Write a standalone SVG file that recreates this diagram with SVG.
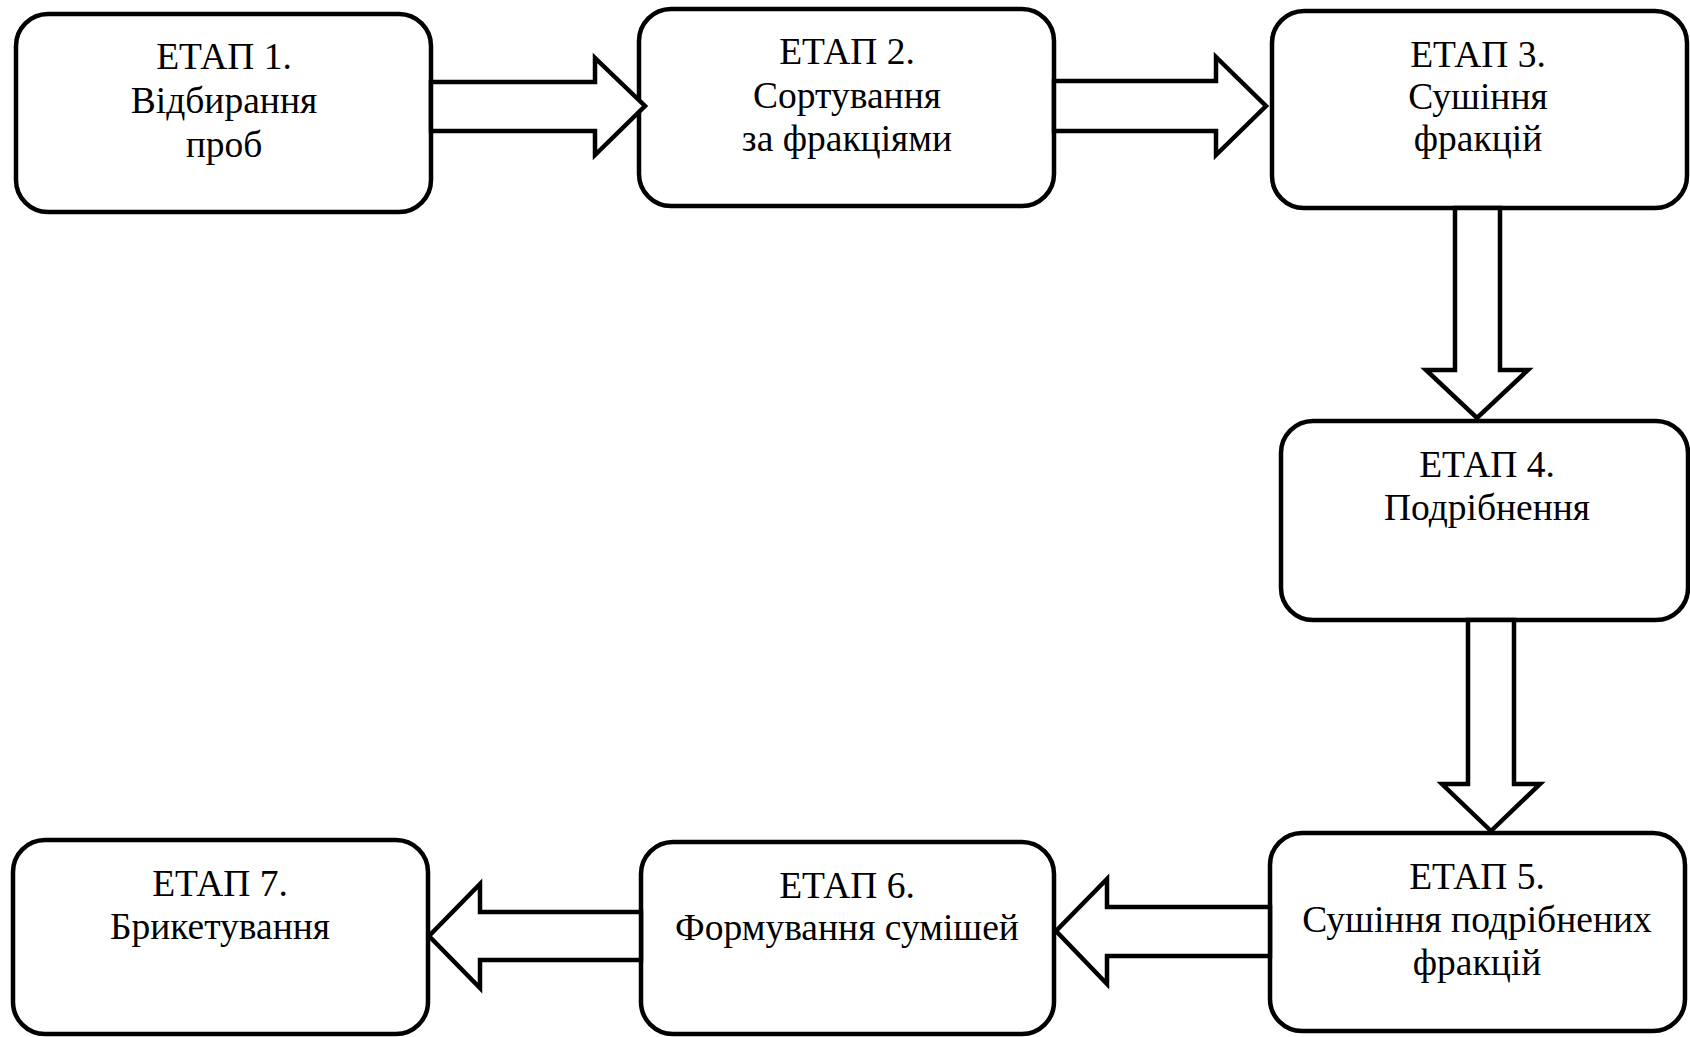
<svg xmlns="http://www.w3.org/2000/svg" width="1690" height="1037" viewBox="0 0 1690 1037">
<style>
.box{fill:#fff;stroke:#000;stroke-width:4.5}
.arr{fill:#fff;stroke:#000;stroke-width:4.5;stroke-linejoin:miter}
text{font-family:"Liberation Serif","Times New Roman",serif;font-size:37.5px;fill:#000;text-anchor:middle}
</style>
<rect width="1690" height="1037" fill="#fff"/>
<g id="n1"><rect class="box" x="16" y="14" width="415" height="198" rx="32"/>
<text x="224" y="69">ЕТАП 1.</text><text x="224" y="113">Відбирання</text><text x="224" y="157">проб</text></g>
<g id="n2"><rect class="box" x="639" y="9" width="415" height="197" rx="32"/>
<text x="847" y="64">ЕТАП 2.</text><text x="847" y="108">Сортування</text><text x="847" y="151">за фракціями</text></g>
<g id="n3"><rect class="box" x="1272" y="11" width="415" height="197" rx="32"/>
<text x="1478" y="67">ЕТАП 3.</text><text x="1478" y="109">Сушіння</text><text x="1478" y="151">фракцій</text></g>
<g id="n4"><rect class="box" x="1281" y="421" width="407" height="199" rx="32"/>
<text x="1487" y="477">ЕТАП 4.</text><text x="1487" y="520">Подрібнення</text></g>
<g id="n5"><rect class="box" x="1270" y="833" width="415" height="198" rx="32"/>
<text x="1477" y="889">ЕТАП 5.</text><text x="1477" y="932">Сушіння подрібнених</text><text x="1477" y="975">фракцій</text></g>
<g id="n6"><rect class="box" x="641" y="842" width="413" height="192" rx="32"/>
<text x="847" y="898">ЕТАП 6.</text><text x="847" y="940">Формування сумішей</text></g>
<g id="n7"><rect class="box" x="13" y="840" width="415" height="194" rx="32"/>
<text x="220" y="896">ЕТАП 7.</text><text x="220" y="939">Брикетування</text></g>
<g id="connectors">
<polygon class="arr" points="431,82 595,82 595,58 645,106 595,155 595,131 431,131"/>
<polygon class="arr" points="1054,81 1216,81 1216,57 1266,106 1216,155 1216,131 1054,131"/>
<polygon class="arr" points="1455,208 1455,370 1426,370 1477,418 1528,370 1500,370 1500,208"/>
<polygon class="arr" points="1468,620 1468,784 1442,784 1491,831 1540,784 1514,784 1514,620"/>
<polygon class="arr" points="1270,907 1107,907 1107,879 1056,931 1107,984 1107,956 1270,956"/>
<polygon class="arr" points="641,912 480,912 480,884 429,936 480,988 480,960 641,960"/>
</g>
</svg>
